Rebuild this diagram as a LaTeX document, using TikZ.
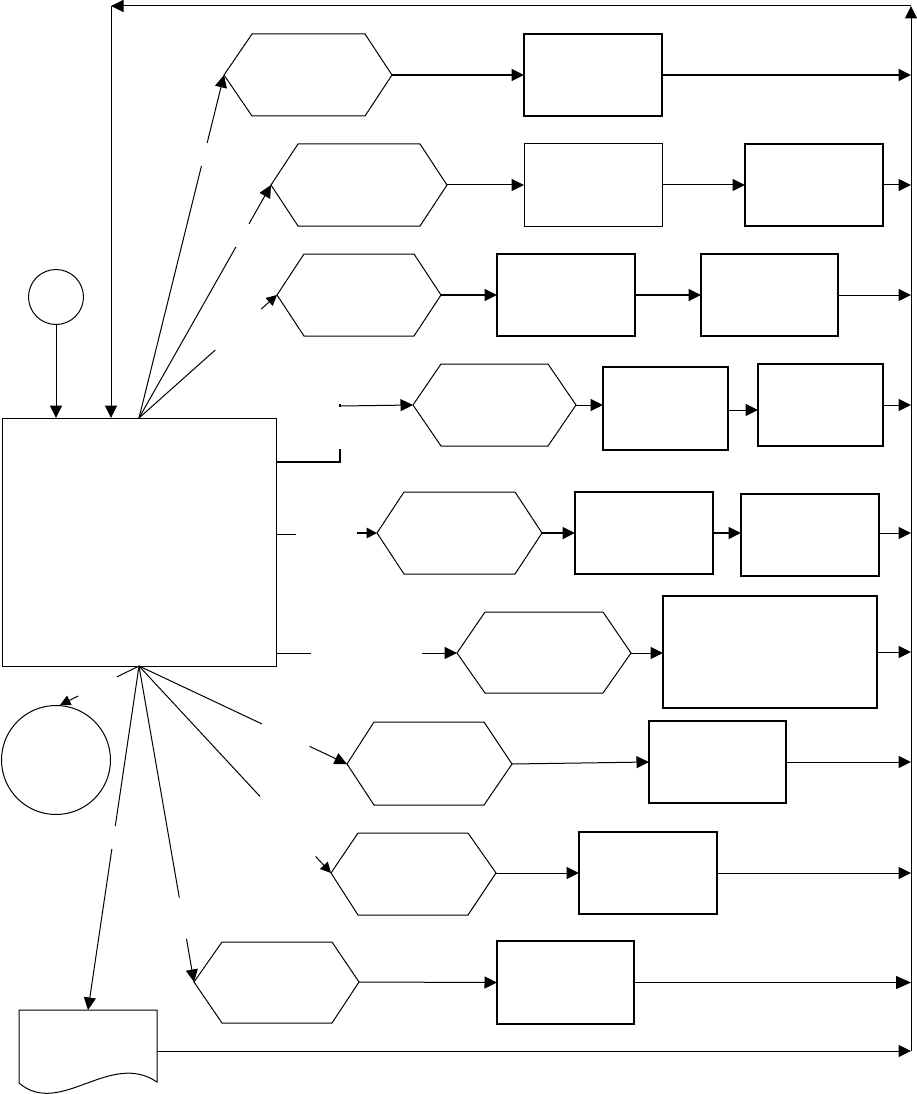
\documentclass[tikz,border=0pt]{standalone}
\usetikzlibrary{arrows.meta,calc}
\tikzset{
  thinl/.style={line width=1pt},
  thickl/.style={line width=1.8pt},
  arr/.style={-{Triangle[length=12.5pt,width=12pt]}},
  sarr/.style={-{Triangle[length=10.5pt,width=10.5pt]}},
  hexs/.style={draw, line width=1pt, line join=miter},
  rbox/.style={draw, rectangle, inner sep=0pt, outer sep=0pt, anchor=north west, line width=1pt},
  tbox/.style={rbox, line width=1.8pt},
  circ/.style={draw, circle, inner sep=0pt, outer sep=0pt, line width=1pt}
}
\newcommand\myhex[8]{%
  \draw[hexs] (#2,#7) -- (#3,#6) -- (#4,#6) -- (#5,#7) -- (#4,#8) -- (#3,#8) -- cycle;
  \coordinate (#1w) at (#2,#7);
  \coordinate (#1e) at (#5,#7);}
\begin{document}
\begin{tikzpicture}[x=1pt,y=-1pt]
\useasboundingbox (0,0) rectangle (917,1094);

% main nodes
\node[rbox, minimum width=274pt, minimum height=248pt] (big) at (2,418) {};
\node[circ, minimum size=55pt] (c1) at (56,297) {};
\node[circ, minimum width=109pt, minimum height=109pt] (c2) at (56,760) {};

% frame coordinates
\coordinate (rb) at (911,1051);
\coordinate (rt) at (911,6);
\coordinate (tl) at (111,6);
\coordinate (ft) at (139,418);
\coordinate (fb) at (139,666);

% hexagons
\myhex{h1}{224}{252}{365}{392}{34}{75}{116}
\myhex{h2}{271}{298}{420}{447}{144}{185}{226}
\myhex{h3}{277}{304}{414}{441}{254}{295}{336}
\myhex{h4}{413}{441}{548}{576}{364}{405}{446}
\myhex{h5}{377}{404}{515}{542}{492}{533}{574}
\myhex{h6}{457}{485}{603}{631}{612}{653}{693}
\myhex{h7}{347}{374}{484}{512}{722}{764}{805}
\myhex{h8}{331}{358}{468}{496}{833}{873}{915}
\myhex{h9}{194}{222}{332}{359}{942}{982}{1023}

% boxes
\node[tbox, line width=1.5pt, minimum width=138pt, minimum height=82pt] (r1a) at (524,34) {};
\node[rbox, minimum width=138pt, minimum height=82pt] (r2a) at (524,144) {};
\node[tbox, minimum width=138pt, minimum height=82pt] (r2b) at (745,144) {};
\node[tbox, minimum width=138pt, minimum height=82pt] (r3a) at (497,254) {};
\node[tbox, minimum width=137pt, minimum height=82pt] (r3b) at (701,254) {};
\node[tbox, minimum width=125pt, minimum height=83pt] (r4a) at (603,367) {};
\node[tbox, minimum width=125pt, minimum height=82pt] (r4b) at (758,364) {};
\node[rbox, line width=1.3pt, minimum width=138pt, minimum height=82pt] (r5a) at (575,492) {};
\node[tbox, minimum width=138pt, minimum height=82pt] (r5b) at (741,494) {};
\node[tbox, minimum width=214pt, minimum height=112pt] (r6) at (663,596) {};
\node[rbox, line width=1.3pt, minimum width=137pt, minimum height=82pt] (r7) at (649,721) {};
\node[rbox, line width=1.3pt, minimum width=138pt, minimum height=82pt] (r8) at (579,832) {};
\node[rbox, line width=1.3pt, minimum width=137pt, minimum height=83pt] (r9) at (497,941) {};

% document shape
\draw[thinl] (19,1083) -- (19,1010) -- (157,1010) -- (157,1082)
  .. controls (110,1050) and (60,1118) .. (19,1083);
\coordinate (docn) at (88,1010);
\coordinate (doce) at (157,1051);

% feedback frame
\draw[thinl, arr] (rb) -- (rt);
\draw[thinl, arr] (rt) -- (tl);
\draw[thinl, arr] (tl) -- (tl |- big.north);
\draw[thinl, arr] (c1) -- (c1 |- big.north);

% top fan (with gaps)
\draw[thinl] (ft) -- ($(ft)!0.735!(h1w)$);
\draw[thinl, arr] ($(ft)!0.802!(h1w)$) -- (h1w);
\draw[thinl] (ft) -- ($(ft)!0.734!(h2w)$);
\draw[thinl, arr] ($(ft)!0.833!(h2w)$) -- (h2w);
\draw[thinl] (ft) -- ($(ft)!0.553!(h3w)$);
\draw[thinl, sarr] ($(ft)!0.886!(h3w)$) -- (h3w);

% bottom fan (with gaps)
\coordinate (c2t) at (60,705);
\draw[thinl] (fb) -- ($(fb)!0.28!(c2t)$);
\draw[thinl, sarr] ($(fb)!0.77!(c2t)$) -- (c2t);
\draw[thinl] (fb) -- ($(fb)!0.59!(h7w)$);
\draw[thinl, arr] ($(fb)!0.82!(h7w)$) -- (h7w);
\draw[thinl] (fb) -- ($(fb)!0.63!(h8w)$);
\draw[thinl, sarr] ($(fb)!0.92!(h8w)$) -- (h8w);
\draw[thinl] (fb) -- ($(fb)!0.733!(h9w)$);
\draw[thinl, arr] ($(fb)!0.863!(h9w)$) -- (h9w);
\draw[thinl] (fb) -- ($(fb)!0.465!(docn)$);
\draw[thinl, arr] ($(fb)!0.532!(docn)$) -- (docn);

% row 1
\draw[thickl, arr] (h1e) -- (r1a.west);
\draw[thickl, arr] (r1a.east) -- (r1a.east -| rt);
% row 2
\draw[thinl, arr] (h2e) -- (r2a.west);
\draw[thinl, arr] (r2a.east) -- (r2b.west);
\draw[thinl, arr] (r2b.east) -- (r2b.east -| rt);
% row 3
\draw[thickl, arr] (h3e) -- (r3a.west);
\draw[thickl, arr] (r3a.east) -- (r3b.west);
\draw[thinl, arr] (r3b.east) -- (r3b.east -| rt);
% row 4
\coordinate (k4) at (340,462);
\draw[thickl] (big.east |- k4) -- (k4) -- (340,449);
\coordinate (s4) at (340,406);
\draw[thickl] (340,404) -- (340,407);
\draw[thinl, arr] (s4) -- (h4w);
\draw[thinl, arr] (h4e) -- (r4a.west |- h4e);
\coordinate (m4) at (728,410);
\draw[thinl, arr] (m4) -- (r4b.west |- m4);
\draw[thinl, arr] (r4b.east) -- (r4b.east -| rt);
% row 5
\coordinate (k5) at (296,534);
\draw[thinl] (big.east |- k5) -- (k5);
\coordinate (s5) at (357,533);
\draw[thickl, sarr] (s5) -- (h5w);
\draw[thickl, arr] (h5e) -- (r5a.west |- h5e);
\draw[thickl, arr] (r5a.east |- h5e) -- (r5b.west |- h5e);
\draw[thinl, arr] (r5b.east |- h5e) -- (h5e -| rt);
% row 6
\coordinate (k6) at (311,653);
\draw[thinl] (big.east |- k6) -- (k6);
\coordinate (s6) at (422,653);
\draw[thinl, arr] (s6) -- (h6w);
\draw[thinl, arr] (h6e) -- (r6.west |- h6e);
\draw[thinl, arr] (r6.east) -- (r6.east -| rt);
% row 7
\draw[thinl, arr] (h7e) -- (r7.west);
\draw[thinl, arr] (r7.east) -- (r7.east -| rt);
% row 8
\draw[thinl, arr] (h8e) -- (r8.west);
\draw[thinl, arr] (r8.east) -- (r8.east -| rt);
% row 9
\draw[thinl, arr] (h9e) -- (r9.west);
\draw[thinl, -{Triangle[length=15pt,width=13pt]}] (r9.east) -- (r9.east -| rt);
% document output
\draw[thinl, arr] (doce) -- (doce -| rt);
\end{tikzpicture}
\end{document}
